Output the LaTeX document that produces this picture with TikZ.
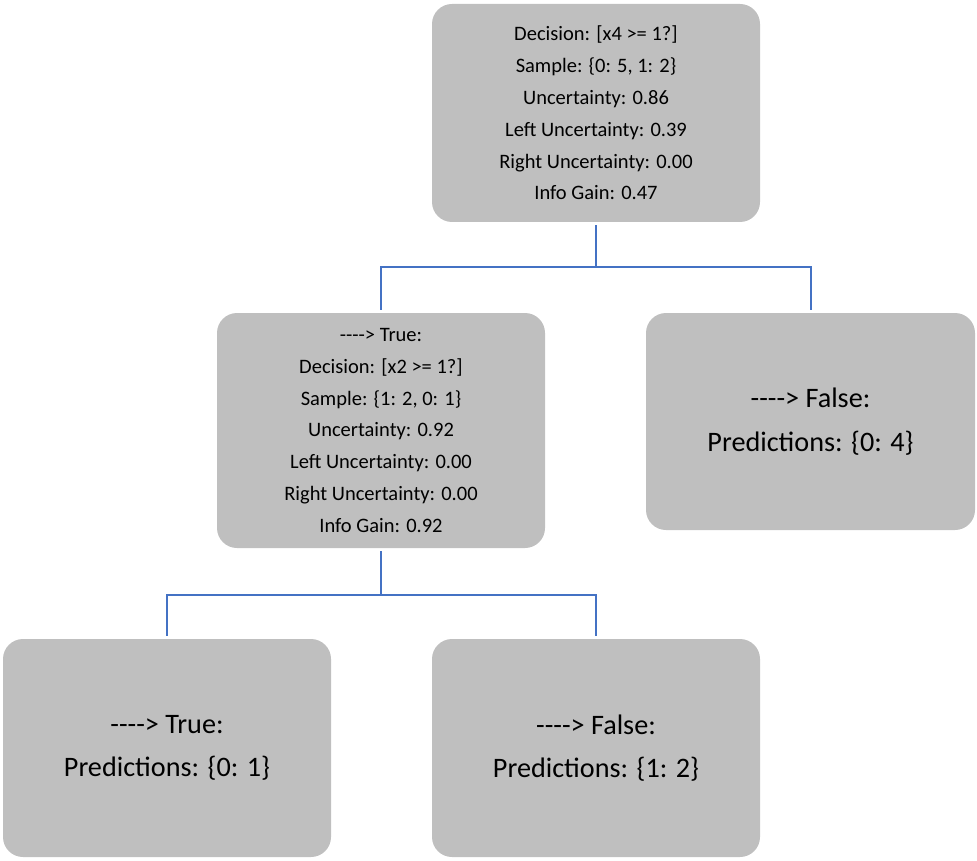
\documentclass[tikz,border=0pt]{standalone}
\usepackage{fontspec}
\setmainfont{Carlito}
\definecolor{boxgray}{HTML}{BFBFBF}
\definecolor{linkblue}{HTML}{4472C4}
\newcommand\dsh{\mbox{-}\mbox{-}\mbox{-}\mbox{-}}
\begin{document}
\begin{tikzpicture}[x=1pt,y=-1pt,
  treebox/.style={rectangle, rounded corners=20pt, fill=boxgray, draw=none,
    align=center, inner sep=0pt, minimum width=328pt, minimum height=218pt},
  smalltext/.style={font=\fontsize{20.5}{31.8}\selectfont},
  bigtext/.style={font=\fontsize{28.2}{43.5}\selectfont},
  link/.style={draw=linkblue, line width=2pt, shorten <=3pt, shorten >=3pt}]
\useasboundingbox (0,0) rectangle (977,861);
\node[treebox, smalltext] (root) at (596,113)
  {Decision: [x4 >= 1?]\\Sample: \{0: 5, 1: 2\}\\Uncertainty: 0.86\\Left Uncertainty: 0.39\\Right Uncertainty: 0.00\\Info Gain: 0.47};
\node[treebox, smalltext, minimum height=235pt] (ml) at (381,430.5)
  {\dsh> True:\\Decision: [x2 >= 1?]\\Sample: \{1: 2, 0: 1\}\\Uncertainty: 0.92\\Left Uncertainty: 0.00\\Right Uncertainty: 0.00\\Info Gain: 0.92};
\node[treebox, bigtext, minimum width=329pt, minimum height=217pt] (rt) at (810.5,421.5)
  {\dsh> False:\\Predictions: \{0: 4\}};
\node[treebox, bigtext] (bl) at (167,748)
  {\dsh> True:\\Predictions: \{0: 1\}};
\node[treebox, bigtext] (br) at (596,748)
  {\dsh> False:\\Predictions: \{1: 2\}};
\coordinate (j1) at (596,267);
\coordinate (j2) at (381,595);
\draw[link, shorten >=0pt] (root.south) -- (j1);
\draw[link, shorten <=0pt] (j1) -| (ml.north);
\draw[link, shorten <=0pt] (j1) -| (rt.north);
\draw[link, shorten >=0pt] (ml.south) -- (j2);
\draw[link, shorten <=0pt] (j2) -| (bl.north);
\draw[link, shorten <=0pt] (j2) -| (br.north);
\end{tikzpicture}
\end{document}
